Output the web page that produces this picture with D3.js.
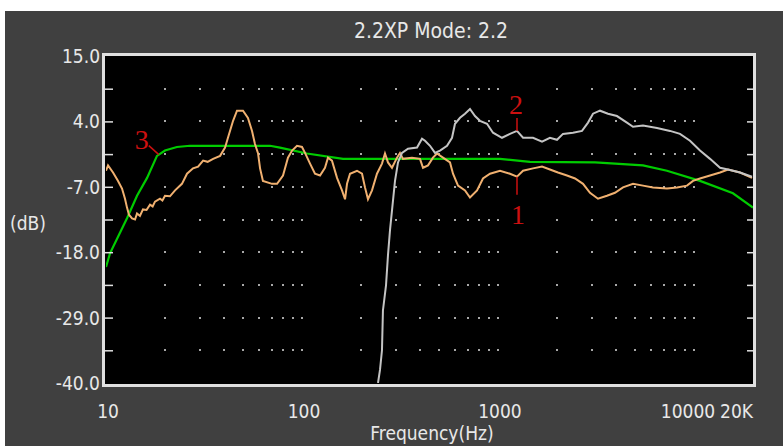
<!DOCTYPE html>
<html>
<head>
<meta charset="utf-8">
<script src="https://cdn.jsdelivr.net/npm/d3@7"></script>
<style>
  body { margin: 0; background: #fff; }
  text { font-family: "DejaVu Sans Condensed", "Liberation Sans Narrow", "DejaVu Sans", sans-serif; font-stretch: condensed; }
</style>
</head>
<body>
<svg id="chart" width="783" height="446"></svg>
<script>
var svg = d3.select('#chart');
const W = +svg.attr('width');
const H = +svg.attr('height');

const title = "2.2XP Mode: 2.2";
const xTicks = [10, 100, 1000, 10000, 20000];
const xTickLabels = ["10", "100", "1000", "10000", "20K"];
const yTicks = [15, 4, -7, -18, -29, -40];

// curve 1 (orange) [Hz, dB]
const curve1 = [[10,-4.3],[10.24,-3.4],[10.86,-4.6],[11.5,-6.0],[12.07,-7.3],[12.5,-9.0],[12.8,-10.5],
  [13.1,-11.7],[13.58,-12.3],[14.06,-12.5],[14.4,-11.5],[14.9,-11.9],[15.44,-10.8],[16.1,-10.9],[16.77,-10.0],
  [17.3,-10.3],[17.78,-9.5],[18.86,-9.0],[19.4,-9.3],[20,-8.5],[21.2,-8.6],[22.5,-7.6],[24.4,-6.5],
  [25.9,-4.8],[27.8,-3.9],[29.5,-3.6],[31.3,-2.6],[33,-2.8],[35.2,-2.3],[38.2,-1.8],[40.5,-0.4],
  [41.9,1.25],[44.5,4.1],[46.6,5.8],[50,5.8],[53,4.6],[55.6,2.4],
  [57.5,0.25],[59.7,-1.4],[61.1,-3.9],[63.2,-6.0],[70.3,-6.5],[74.6,-6.5],[80,-5.1],[84.8,-2.1],
  [89,-0.9],[94.3,-0.1],[100,-0.3],[103.6,-1.3],[109.9,-3.1],[116.5,-4.8],[123.6,-5.1],[131,-3.8],
  [135.7,-2.1],[142.2,-2.6],[150.9,-5.5],[160,-7.6],[165.8,-9.1],[169.7,-6.5],[175.8,-4.8],
  [190.8,-4.3],[202.4,-4.8],[209.6,-7.1],[217.1,-9.1],[227.6,-7.6],[241.3,-4.8],[255.9,-3.1],
  [265.1,-1.4],[274.6,-2.9],[287.8,-3.8],[305.3,-2.1],[316.2,-1.3],[327.5,-2.3],[364,-2.1],
  [400,-2.3],[414.4,-3.8],[439.5,-3.4],[465.9,-2.1],[488.5,-1.4],[524,-2.1],[569,-2.9],[589.5,-4.8],
  [625.1,-6.8],[678.6,-7.6],[719.5,-8.8],[781.6,-7.6],[838.4,-5.6],[910.6,-4.8],[1024,-4.3],
  [1151,-4.8],[1250,-5.3],[1342,-4.3],[1509,-3.9],[1677,-3.6],[1841,-4.1],[2023,-4.6],[2249,-5.1],
  [2472,-5.6],[2715,-6.5],[2947,-8.0],[3237,-9.0],[3597,-8.5],[3951,-8.0],[4343,-7.1],[4885,-6.5],
  [5493,-6.8],[6180,-7.1],[7278,-7.3],[8188,-7.1],[9211,-6.8],[9886,-6.0],[10730,-5.6],[12070,-5.1],
  [13580,-4.6],[14910,-4.1],[17170,-4.6],[19770,-5.5]];

// curve 2 (grey)
const curve2 = [[244.2,-40],[250,-37.8],[255.9,-34.5],[258.8,-27.8],[268.3,-23.6],[274.6,-18.5],
  [281.2,-14.3],[287.8,-11.0],[298.2,-6.0],[308.9,-2.9],[323.7,-1.3],[347.4,-0.6],[386.2,-0.4],
  [409.5,1.1],[424.2,0.75],[449.8,-0.1],[477.2,-1.3],[505.9,-0.9],[549.5,-0.1],[582.6,1.25],
  [603.4,3.6],[640,4.6],[678.6,5.3],[719.5,6.1],[763.2,4.9],[809.5,4.1],[878.8,3.6],[943,2.1],
  [1048,1.25],[1151,1.9],[1250,2.4],[1342,1.25],[1509,1.25],[1677,0.6],[1841,1.25],[2000,0.9],
  [2146,1.9],[2414,2.1],[2683,2.4],[2879,3.8],[3053,5.3],[3315,5.8],[3640,5.3],[4045,4.9],
  [4549,3.8],[4885,3.1],[5493,3.3],[6473,2.9],[7545,2.4],[8484,1.9],[9541,0.75],[10730,-0.9],
  [12070,-2.3],[13580,-3.8],[14910,-4.1],[17170,-4.6],[19770,-5.3]];

// curve 3 (green)
const curve3 = [[10,-20.5],[10.48,-18.2],[11.8,-14.7],[12.8,-12.3],[14.4,-8.5],[16.2,-5.5],
  [18.2,-1.8],[20,-0.9],[23,-0.3],[26.8,-0.1],[68.7,-0.1],[77.2,-0.4],[106,-1.4],[161.9,-2.3],
  [1024,-2.3],[1456,-2.8],[3126,-2.9],[5493,-3.4],[7278,-4.3],[10730,-6.0],[15810,-8.1],[20000,-10.5]];

const markerIds = ["1", "2", "3"];
const markerFreqs = [1250, 1250, 18.6];

const margin = {left: 106, right: 30, top: 56, bottom: 63};

const x = d3.scaleLog().domain([10, 20000]).range([margin.left, W - margin.right]);
const y = d3.scaleLinear().domain([-40, 15]).range([H - margin.bottom, margin.top]);

// background panel
svg.append('rect').attr('x', 5).attr('y', 11).attr('width', W - 5).attr('height', H - 11)
    .attr('fill', '#404040');

svg.append('text').text(title)
    .attr('x', 431).attr('y', 38)
    .attr('text-anchor', 'middle')
    .attr('fill', '#e8e8e8')
    .style('font-size', '21px');

const x0 = x(10), x1 = x(20000), y0 = y(15), y1 = y(-40);
svg.append('rect').attr('x', x0 - 1).attr('y', y0 - 1)
    .attr('width', x1 - x0 + 2).attr('height', y1 - y0 + 2)
    .attr('fill', '#000');

// dotted grid
var gridX = [];
for (var p = 1; p <= 4; p++) {
    for (var k = 1; k <= 9; k++) {
        var f = k * Math.pow(10, p);
        if (f > 10 && f <= 10000) gridX.push(f);
    }
}
var gridY = [];
for (var v = -34.5; v < 15; v += 5.5) gridY.push(v);

const grid = svg.append('g');
gridY.forEach(gy => {
    grid.selectAll(null).data(gridX).enter().append('rect')
        .attr('x', d => Math.round(x(d)) - 1)
        .attr('y', Math.round(y(gy)) - 1)
        .attr('width', 2).attr('height', 2)
        .attr('fill', '#a8a8a8');
});

svg.append('clipPath').attr('id', 'clip').append('rect')
    .attr('x', x0).attr('y', y0).attr('width', x1 - x0).attr('height', y1 - y0);

const line = d3.line().x(d => x(d[0])).y(d => y(d[1]));
const curves = svg.append('g').attr('clip-path', 'url(#clip)');

curves.append('path').datum(curve3).attr('d', line)
    .attr('fill', 'none').attr('stroke', '#00cc00').attr('stroke-width', 2.2);
curves.append('path').datum(curve1).attr('d', line)
    .attr('fill', 'none').attr('stroke', '#f0b070').attr('stroke-width', 2);
curves.append('path').datum(curve2).attr('d', line)
    .attr('fill', 'none').attr('stroke', '#c4c4c4').attr('stroke-width', 2);

// frame
const frame = svg.append('g').attr('stroke', '#e0e0e0').attr('fill', 'none');
frame.append('rect').attr('x', x0 - 2.5).attr('y', y0 - 1.5)
    .attr('width', x1 - x0 + 4).attr('height', y1 - y0 + 4)
    .attr('stroke-width', 3);

// ticks (inward)
var minorX = gridX.filter(d => d % Math.pow(10, Math.floor(Math.log10(d) + 1e-9)) !== 0);
svg.append('g').call(d3.axisTop(x).tickValues(minorX).tickSize(-6).tickFormat(''))
    .attr('transform', 'translate(0,' + (y0 + 1) + ')')
    .call(g => g.select('.domain').remove())
    .call(g => g.selectAll('line').attr('stroke', '#e0e0e0').attr('stroke-width', 1.5));
svg.append('g').call(d3.axisBottom(x).tickValues(minorX).tickSize(-6).tickFormat(''))
    .attr('transform', 'translate(0,' + (y1 + 1) + ')')
    .call(g => g.select('.domain').remove())
    .call(g => g.selectAll('line').attr('stroke', '#e0e0e0').attr('stroke-width', 1.5));

var yTickAll = d3.range(-34.5, 15, 5.5);
svg.append('g').call(d3.axisLeft(y).tickValues(yTickAll).tickSize(-8).tickFormat(''))
    .attr('transform', 'translate(' + (x0 - 1) + ',0)')
    .call(g => g.select('.domain').remove())
    .call(g => g.selectAll('line').attr('stroke', '#e0e0e0').attr('stroke-width', 1.5));
svg.append('g').call(d3.axisRight(y).tickValues(yTickAll).tickSize(-7).tickFormat(''))
    .attr('transform', 'translate(' + (x1 + 1) + ',0)')
    .call(g => g.select('.domain').remove())
    .call(g => g.selectAll('line').attr('stroke', '#e0e0e0').attr('stroke-width', 1.5));

// y labels
svg.append('g').selectAll('text').data(yTicks).enter().append('text')
    .text(d => d.toFixed(1))
    .attr('x', x0 - 6).attr('y', d => y(d) + 7)
    .attr('text-anchor', 'end')
    .attr('fill', '#e8e8e8')
    .style('font-size', '19px');

svg.append('text').text('(dB)')
    .attr('x', 10).attr('y', 230)
    .attr('fill', '#e8e8e8')
    .style('font-size', '19px');

// x labels
svg.append('g').selectAll('text').data(xTicks).enter().append('text')
    .text((d, i) => xTickLabels[i])
    .attr('x', (d, i) => i === xTicks.length - 1 ? x(d) : (i === xTicks.length - 2 ? x(d) - 6 : x(d) + 2))
    .attr('y', 418)
    .attr('text-anchor', (d, i) => i === xTicks.length - 1 ? 'end' : 'middle')
    .attr('fill', '#e8e8e8')
    .style('font-size', '19px');

svg.append('text').text('Frequency(Hz)')
    .attr('x', 432).attr('y', 440)
    .attr('text-anchor', 'middle')
    .attr('fill', '#e8e8e8')
    .style('font-size', '19px');

// curve markers
const series = [curve1, curve2, curve3];
const valueAt = (data, f) => {
    const lf = Math.log10(f);
    for (var i = 1; i < data.length; i++) {
        var a = Math.log10(data[i-1][0]), b = Math.log10(data[i][0]);
        if (lf >= a && lf <= b) {
            var t = (lf - a) / (b - a);
            return data[i-1][1] + t * (data[i][1] - data[i-1][1]);
        }
    }
    return data[data.length - 1][1];
};

const marks = svg.append('g');
markerIds.forEach((id, i) => {
    const px = x(markerFreqs[i]);
    const py = y(valueAt(series[i], markerFreqs[i]));
    var lx, ly, tx, ty;
    if (id === "1") { lx = px; ly = py + 18; tx = px + 1; ty = py + 47; }
    else if (id === "2") { lx = px; ly = py - 13; tx = px - 1; ty = py - 17; }
    else { lx = px - 10; ly = py - 9; tx = px - 17; ty = py - 6; }
    marks.append('line').attr('x1', px).attr('y1', py).attr('x2', lx).attr('y2', ly)
        .attr('stroke', '#cc1010').attr('stroke-width', 1.5);
    marks.append('text').text(id)
        .attr('x', tx).attr('y', ty)
        .attr('text-anchor', 'middle')
        .attr('fill', '#cc1010')
        .style('font-family', '"Liberation Serif", "DejaVu Serif", serif')
        .style('font-size', '28px');
});
</script>
</body>
</html>
